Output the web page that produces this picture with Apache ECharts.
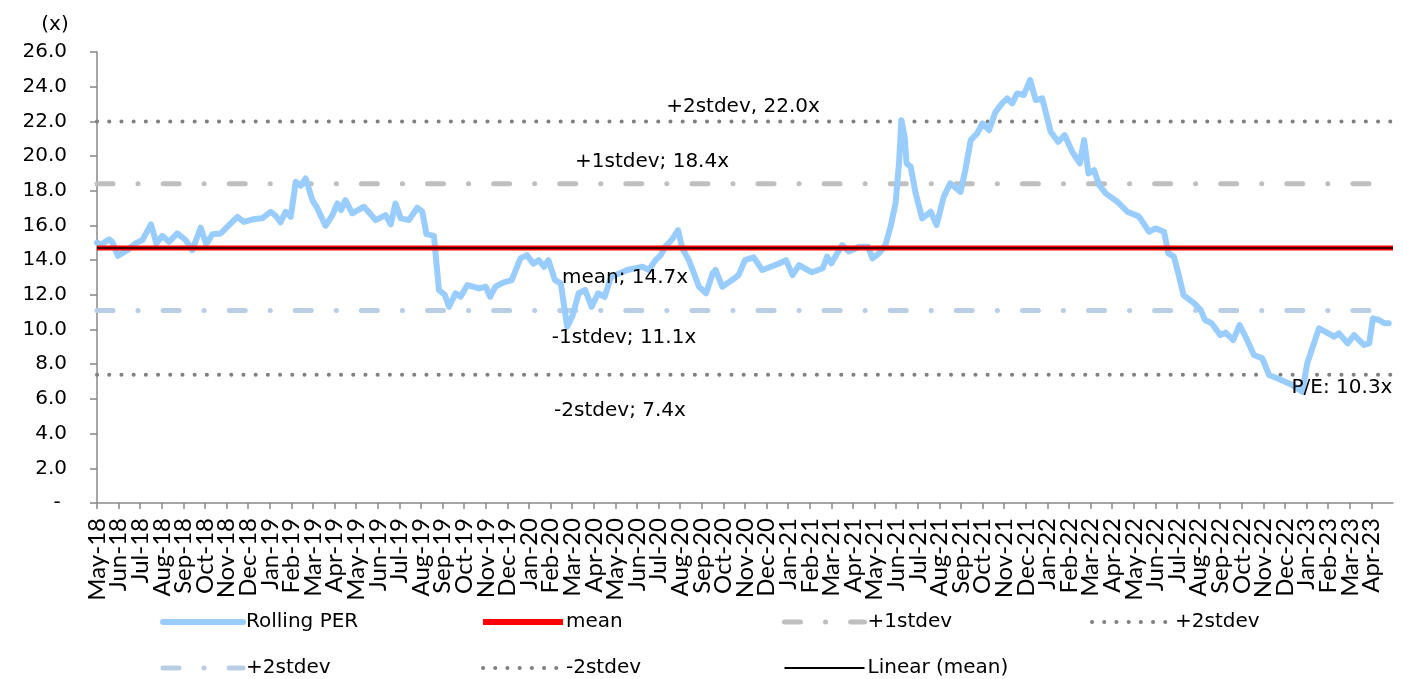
<!DOCTYPE html>
<html>
<head>
<meta charset="utf-8">
<title>Rolling PER</title>
<script src="https://cdn.jsdelivr.net/npm/echarts@6/dist/echarts.min.js"></script>
<style>
  html, body { margin: 0; padding: 0; background: #fff; }
  #chart { width: 1407px; height: 679px; }
</style>
</head>
<body>
<div id="chart"></div>
<script>
// month tick labels (one tick per month, index = position on the x axis)
const months = [
  'May-18', 'Jun-18', 'Jul-18', 'Aug-18', 'Sep-18', 'Oct-18', 'Nov-18', 'Dec-18',
  'Jan-19', 'Feb-19', 'Mar-19', 'Apr-19', 'May-19', 'Jun-19', 'Jul-19', 'Aug-19', 'Sep-19', 'Oct-19', 'Nov-19', 'Dec-19',
  'Jan-20', 'Feb-20', 'Mar-20', 'Apr-20', 'May-20', 'Jun-20', 'Jul-20', 'Aug-20', 'Sep-20', 'Oct-20', 'Nov-20', 'Dec-20',
  'Jan-21', 'Feb-21', 'Mar-21', 'Apr-21', 'May-21', 'Jun-21', 'Jul-21', 'Aug-21', 'Sep-21', 'Oct-21', 'Nov-21', 'Dec-21',
  'Jan-22', 'Feb-22', 'Mar-22', 'Apr-22', 'May-22', 'Jun-22', 'Jul-22', 'Aug-22', 'Sep-22', 'Oct-22', 'Nov-22', 'Dec-22',
  'Jan-23', 'Feb-23', 'Mar-23', 'Apr-23'
]

// rolling PER: position in months since May-18, and value (x)
const perPos = [
  0, 0.2, 0.56, 0.7, 0.97, 1.4, 1.79, 2.1, 2.5, 2.75,
  3.02, 3.33, 3.72, 4.1, 4.41, 4.8, 5.06, 5.34, 5.73, 6.19,
  6.5, 6.8, 7.27, 7.65, 8.04, 8.27, 8.5, 8.73, 8.97, 9.2,
  9.43, 9.66, 9.97, 10.2, 10.58, 10.9, 11.13, 11.3, 11.5, 11.82,
  12.36, 12.9, 13.36, 13.6, 13.82, 14.06, 14.44, 14.83, 15.06, 15.25,
  15.6, 15.83, 16.1, 16.3, 16.6, 16.83, 17.15, 17.7, 18.0, 18.2,
  18.45, 18.8, 19.2, 19.6, 19.9, 20.2, 20.45, 20.7, 20.9, 21.2,
  21.47, 21.77, 22.0, 22.3, 22.6, 22.9, 23.2, 23.5, 23.8, 24.2,
  24.55, 24.9, 25.25, 25.55, 25.86, 26.1, 26.3, 26.6, 26.9, 27.1,
  27.4, 27.64, 27.87, 28.2, 28.5, 28.64, 28.95, 29.4, 29.7, 30.0,
  30.4, 30.8, 31.2, 31.6, 31.9, 32.2, 32.5, 33.1, 33.6, 33.8,
  34.0, 34.5, 34.8, 35.3, 35.7, 35.9, 36.2, 36.5, 36.74, 36.97,
  37.13, 37.24, 37.39, 37.48, 37.67, 37.9, 38.2, 38.6, 38.87, 39.2,
  39.5, 39.98, 40.2, 40.45, 40.75, 40.99, 41.3, 41.6, 41.9, 42.14,
  42.37, 42.6, 42.9, 43.2, 43.46, 43.76, 44.15, 44.5, 44.8, 45.15,
  45.5, 45.7, 45.9, 46.16, 46.4, 46.7, 47.24, 47.7, 48.2, 48.3,
  48.7, 49.0, 49.4, 49.6, 49.86, 50.1, 50.3, 50.8, 51.1, 51.3,
  51.6, 52.0, 52.25, 52.6, 52.9, 53.25, 53.56, 53.95, 54.26, 54.64,
  55.0, 55.34, 55.8, 56.03, 56.34, 56.57, 56.88, 57.27, 57.5, 57.9,
  58.2, 58.65, 58.9, 59.07, 59.35, 59.6, 59.8
]
const perVal = [
  15.0, 14.9, 15.2, 15.06, 14.25, 14.58, 14.97, 15.16, 16.06, 14.97,
  15.4, 15.06, 15.54, 15.16, 14.58, 15.87, 14.91, 15.49, 15.54, 16.12,
  16.5, 16.21, 16.37, 16.41, 16.79, 16.56, 16.18, 16.79, 16.5, 18.52,
  18.29, 18.71, 17.46, 16.99, 15.98, 16.6, 17.27, 16.89, 17.46, 16.7,
  17.08, 16.31, 16.6, 16.06, 17.27, 16.41, 16.31, 17.02, 16.8, 15.5,
  15.4, 12.28, 12.0, 11.31, 12.09, 11.89, 12.56, 12.37, 12.47, 11.89,
  12.47, 12.7, 12.85, 14.1, 14.29, 13.8, 14.0, 13.62, 14.0, 12.85,
  12.66, 10.16, 10.74, 12.09, 12.28, 11.31, 12.09, 11.89, 13.04, 13.24,
  13.43, 13.53, 13.62, 13.43, 14.0, 14.29, 14.77, 15.16, 15.73, 14.68,
  14.0, 13.24, 12.47, 12.09, 13.24, 13.43, 12.47, 12.85, 13.14, 14.0,
  14.16, 13.43, 13.62, 13.82, 14.0, 13.14, 13.72, 13.3, 13.53, 14.2,
  13.82, 14.87, 14.5, 14.77, 14.77, 14.1, 14.39, 14.87, 15.93, 17.27,
  19.58, 22.07, 21.11, 19.58, 19.39, 17.85, 16.41, 16.79, 16.02, 17.65,
  18.43, 17.94, 19.19, 20.92, 21.31, 21.88, 21.5, 22.55, 23.04, 23.33,
  23.04, 23.61, 23.52, 24.38, 23.23, 23.33, 21.4, 20.82, 21.21, 20.25,
  19.58, 20.92, 19.0, 19.19, 18.33, 17.85, 17.37, 16.79, 16.54, 16.41,
  15.64, 15.83, 15.64, 14.39, 14.2, 13.04, 11.99, 11.51, 11.12, 10.55,
  10.36, 9.68, 9.82, 9.39, 10.26, 9.39, 8.53, 8.34, 7.38, 7.19,
  6.99, 6.8, 6.42, 8.05, 9.2, 10.07, 9.87, 9.59, 9.78, 9.2,
  9.68, 9.11, 9.2, 10.65, 10.55, 10.36, 10.36
]

// band levels (names as in the legend; the -1stdev band is labelled "+2stdev" there)
const bandNames = ['+1stdev', '+2stdev', '+2stdev ', '-2stdev']
const bandValues = [18.4, 22.0, 11.1, 7.4]
const meanValue = 14.7

// in-chart annotations
const noteTexts = ['+2stdev, 22.0x', '+1stdev; 18.4x', 'mean; 14.7x', '-1stdev; 11.1x', '-2stdev; 7.4x', 'P/E: 10.3x']

const X_MAX = months.length // axis runs a little past the last month tick
const FONT = 'DejaVu Sans'
const DASH_DOT = [16, 25, 0.1, 25]
const DOTS = [0.1, 12.1]
const CLEAR = 'rgba(0,0,0,0)'
const AXIS_GREY = '#898989'

const flat = (v) => [[0, v], [X_MAX, v]]

const bandStyles = [
  { color: '#BFBFBF', width: 5, type: DASH_DOT },
  { color: '#808080', width: 4, type: DOTS },
  { color: '#B9CDE5', width: 5, type: DASH_DOT },
  { color: '#808080', width: 4, type: DOTS },
]

const bandSeries = bandNames.map((name, i) => ({
  name,
  type: 'line',
  data: flat(bandValues[i]),
  symbol: 'none',
  silent: true,
  itemStyle: { color: bandStyles[i].color },
  lineStyle: { ...bandStyles[i], cap: 'round' },
  z: 2,
}))

// annotation anchor points (centre of text, pixels)
const notePos = [[743, 107], [652, 162], [625, 278], [624, 338], [620, 411], [1342, 388]]

const chart = echarts.init(document.getElementById('chart'))

const legendBase = {
  orient: 'vertical',
  top: 612,
  height: 66,
  padding: 0,
  itemWidth: 80,
  itemHeight: 14,
  itemGap: 26,
  selectedMode: false,
  itemStyle: { color: CLEAR, borderColor: CLEAR, borderWidth: 0 },
  textStyle: { fontFamily: FONT, fontSize: 20, color: '#000', lineHeight: 20, padding: [0, 0, 0, -2] },
}

chart.setOption({
  animation: false,
  grid: { left: 97, right: 14, top: 52, bottom: 176 },
  xAxis: [
    // value axis carrying the data (month offsets)
    { type: 'value', min: 0, max: X_MAX, show: false },
    // month axis for ticks and labels, lined up with the value axis
    {
      type: 'category',
      data: [...months, ''],
      boundaryGap: false,
      position: 'bottom',
      axisLine: { lineStyle: { color: AXIS_GREY, width: 1.5 } },
      axisTick: { interval: (i) => i < months.length, length: 6, lineStyle: { color: AXIS_GREY, width: 1.5 } },
      axisLabel: {
        interval: 0,
        rotate: 90,
        margin: 15,
        color: '#000',
        fontFamily: 'Lato',
        fontSize: 24,
      },
    },
  ],
  yAxis: {
    type: 'value',
    min: 0,
    max: 26,
    interval: 2,
    splitLine: { show: false },
    axisLine: { show: true, lineStyle: { color: AXIS_GREY, width: 1.5 } },
    axisTick: { show: true, length: 7, lineStyle: { color: AXIS_GREY, width: 1.5 } },
    axisLabel: {
      formatter: (v) => (v === 0 ? '- ' : v.toFixed(1)),
      margin: 30,
      color: '#000',
      fontFamily: FONT,
      fontSize: 20,
    },
  },
  legend: [
    { ...legendBase, left: 160, data: [{ name: 'Rolling PER', lineStyle: { width: 6 } }, { name: '+2stdev ', lineStyle: { width: 5 } }] },
    { ...legendBase, left: 480, data: [{ name: 'mean', lineStyle: { width: 6 } }, { name: '-2stdev', lineStyle: { width: 4 } }] },
    { ...legendBase, left: 782, data: [{ name: '+1stdev', lineStyle: { width: 5 } }, { name: 'Linear (mean)', lineStyle: { width: 2 } }] },
    { ...legendBase, left: 1090, data: [{ name: '+2stdev', lineStyle: { width: 4 } }] },
  ],
  graphic: [
    { type: 'text', x: 55, y: 25, style: { text: '(x)', font: `20px "${FONT}"`, fill: '#000', align: 'center', verticalAlign: 'middle' } },
    ...noteTexts.map((t, i) => ({
      type: 'text',
      x: notePos[i][0],
      y: notePos[i][1],
      z: 100,
      style: { text: t, font: `20px "${FONT}"`, fill: '#000', align: 'center', verticalAlign: 'middle' },
    })),
  ],
  series: [
    ...bandSeries,
    {
      name: 'Rolling PER',
      type: 'line',
      data: perPos.map((p, i) => [p, perVal[i]]),
      symbol: 'none',
      itemStyle: { color: '#99CCFF' },
      lineStyle: { color: '#99CCFF', width: 6, join: 'round', cap: 'round' },
      z: 3,
    },
    {
      name: 'mean',
      type: 'line',
      data: flat(meanValue),
      symbol: 'none',
      silent: true,
      itemStyle: { color: '#FF0000' },
      lineStyle: { color: '#FF0000', width: 5 },
      z: 4,
    },
    {
      name: 'Linear (mean)',
      type: 'line',
      data: flat(meanValue),
      symbol: 'none',
      silent: true,
      itemStyle: { color: '#000000' },
      lineStyle: { color: '#000000', width: 1.6 },
      z: 5,
    },
  ],
})
</script>
</body>
</html>
